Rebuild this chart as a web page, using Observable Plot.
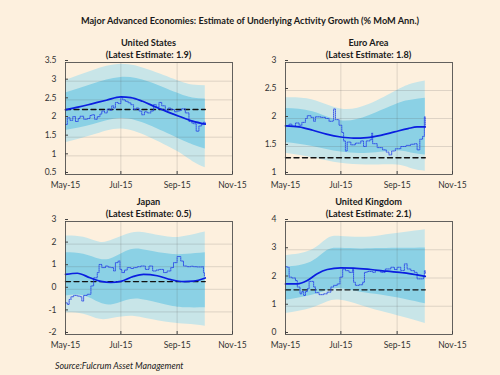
<!DOCTYPE html>
<html><head><meta charset="utf-8">
<script src="https://cdn.jsdelivr.net/npm/d3@7"></script>
<script src="https://cdn.jsdelivr.net/npm/@observablehq/plot@0.6"></script>
<style>
html,body{margin:0;padding:0;background:#fdf0de;}
#root{position:relative;width:500px;height:375px;overflow:hidden;font-family:Lato,"DejaVu Sans",sans-serif;color:#1a1a1a;background:#fdf0de;}
.t{position:absolute;transform:translate(-50%,-50%);white-space:nowrap;font-weight:bold;font-size:9.2px;}
.src{position:absolute;white-space:nowrap;font-style:italic;font-size:8.8px;color:#222;}
.p{position:absolute;}
</style></head><body><div id="root"></div>
<script>
// ---------- data ----------
const mainTitle = "Major Advanced Economies: Estimate of Underlying Activity Growth (% MoM Ann.)";
const source = "Source:Fulcrum Asset Management";
const xTickLabels = ["May-15","Jul-15","Sep-15","Nov-15"];
const xTickDays = [0, 61, 123, 184]; // days after 1 May 2015

// United States
const usTitle = "United States";
const usLatest = "(Latest Estimate: 1.9)";
const usYTicks = [0.5, 1, 1.5, 2, 2.5, 3, 3.5];
const usBandDays = [0, 30, 61, 92, 123, 140, 154];
const usOuterHi = [3.02, 3.28, 3.45, 3.3, 3.02, 2.9, 2.88];
const usInnerHi = [2.68, 2.92, 3.1, 2.98, 2.68, 2.55, 2.52];
const usInnerLo = [1.68, 1.83, 2.0, 1.82, 1.48, 1.3, 1.18];
const usOuterLo = [1.35, 1.55, 1.72, 1.5, 1.12, 0.85, 0.68];
const usTrendDays = [0, 15, 30, 45, 61, 72, 85, 100, 113, 125, 140, 154];
const usTrend = [2.23, 2.31, 2.4, 2.49, 2.58, 2.56, 2.46, 2.3, 2.17, 2.06, 1.93, 1.85];
const usDailyDays = [0, 2, 5, 8, 11, 14, 16, 20, 24, 27, 29, 32, 35, 38, 40, 43, 46, 49, 51, 53, 55, 58, 61, 63, 66, 69, 72, 75, 78, 81, 84, 87, 90, 94, 97, 100, 103, 106, 110, 113, 116, 120, 123, 126, 128, 132, 136, 139, 141, 144, 147, 150, 152, 154];
const usDaily    = [1.84, 2.02, 1.95, 2.05, 1.92, 2.0, 2.06, 1.98, 2.0, 2.08, 2.1, 1.98, 2.05, 2.12, 2.2, 2.15, 2.25, 2.22, 2.34, 2.28, 2.43, 2.4, 2.56, 2.5, 2.46, 2.42, 2.37, 2.24, 2.28, 2.2, 2.1, 2.18, 2.15, 2.2, 2.37, 2.3, 2.43, 2.34, 2.2, 2.28, 2.24, 2.18, 2.2, 2.22, 2.26, 2.15, 1.92, 1.88, 1.86, 1.66, 1.8, 1.85, 1.9, 1.84];
const usBaseline = 2.24;

// Euro Area
const eaTitle = "Euro Area";
const eaLatest = "(Latest Estimate: 1.8)";
const eaYTicks = [1, 1.5, 2, 2.5, 3];
const eaBandDays = [0, 30, 61, 92, 123, 140, 154];
const eaOuterHi = [2.37, 2.33, 2.17, 2.25, 2.5, 2.62, 2.67];
const eaInnerHi = [2.18, 2.12, 1.96, 2.05, 2.26, 2.33, 2.36];
const eaInnerLo = [1.57, 1.5, 1.4, 1.38, 1.42, 1.38, 1.35];
const eaOuterLo = [1.38, 1.3, 1.2, 1.17, 1.17, 1.1, 1.06];
const eaTrendDays = [0, 15, 30, 45, 61, 75, 90, 105, 120, 135, 145, 154];
const eaTrend = [1.87, 1.85, 1.79, 1.72, 1.67, 1.65, 1.66, 1.7, 1.76, 1.82, 1.85, 1.85];
const eaDailyDays = [0, 4, 7, 11, 15, 18, 22, 24, 28, 31, 33, 39, 44, 48, 52, 53, 55, 59, 62, 64, 66, 68, 72, 77, 83, 86, 89, 93, 95, 96, 101, 107, 111, 114, 117, 121, 127, 133, 138, 142, 145, 148, 151, 153, 154];
const eaDaily    = [1.87, 1.9, 1.86, 1.92, 1.88, 1.93, 2.0, 2.05, 2.02, 1.95, 2.03, 2.02, 2.0, 1.95, 1.96, 2.17, 1.98, 1.88, 1.75, 1.6, 1.42, 1.58, 1.53, 1.56, 1.6, 1.5, 1.6, 1.62, 1.74, 1.55, 1.48, 1.44, 1.4, 1.35, 1.42, 1.46, 1.5, 1.52, 1.54, 1.55, 1.44, 1.63, 1.68, 2.03, 1.88];
const eaBaseline = 1.3;

// Japan
const jpTitle = "Japan";
const jpLatest = "(Latest Estimate: 0.5)";
const jpYTicks = [-2, -1, 0, 1, 2, 3];
const jpBandDays = [0, 20, 38, 53, 72, 90, 116, 134, 154];
const jpOuterHi = [2.36, 2.3, 2.08, 2.2, 2.48, 2.48, 2.3, 2.36, 2.54];
const jpInnerHi = [1.62, 1.55, 1.33, 1.4, 1.75, 1.72, 1.55, 1.55, 1.62];
const jpInnerLo = [-0.3, -0.28, -0.6, -0.67, -0.45, -0.5, -0.74, -0.82, -0.82];
const jpOuterLo = [-1.04, -1.1, -1.33, -1.28, -1.19, -1.3, -1.48, -1.55, -1.63];
const jpTrendDays = [0, 13, 27, 39, 50, 61, 75, 86, 101, 116, 130, 141, 154];
const jpTrend = [0.66, 0.71, 0.51, 0.35, 0.3, 0.35, 0.57, 0.66, 0.6, 0.43, 0.34, 0.36, 0.5];
const jpDailyDays = [0, 2, 4, 6, 9, 13, 16, 18, 20, 24, 28, 31, 35, 37, 40, 44, 47, 50, 53, 55, 58, 60, 62, 65, 68, 72, 75, 79, 83, 88, 92, 96, 100, 103, 108, 112, 116, 119, 123, 127, 130, 134, 138, 141, 145, 151, 152, 153];
const jpDaily    = [-0.6, -0.67, -0.45, -0.33, -0.27, -0.3, -0.33, -0.52, -0.27, -0.22, 0.15, 0.51, 0.74, 1.1, 0.96, 1.03, 0.98, 0.96, 0.81, 1.18, 1.25, 0.88, 0.74, 0.85, 0.96, 0.92, 0.96, 1.0, 1.03, 0.88, 1.03, 0.81, 0.85, 0.88, 0.74, 0.81, 0.96, 1.18, 1.45, 1.25, 1.03, 1.0, 1.02, 1.0, 0.99, 1.0, 0.74, 0.59];
const jpBaseline = 0.34;

// United Kingdom
const ukTitle = "United Kingdom";
const ukLatest = "(Latest Estimate: 2.1)";
const ukYTicks = [0, 1, 2, 3, 4];
const ukBandDays = [0, 28, 46, 61, 83, 105, 131, 154];
const ukOuterHi = [2.79, 2.97, 3.38, 3.47, 3.44, 3.5, 3.61, 3.71];
const ukInnerHi = [2.38, 2.56, 2.97, 3.05, 3.03, 3.04, 3.05, 3.06];
const ukInnerLo = [1.21, 1.38, 1.56, 1.62, 1.5, 1.4, 1.25, 1.09];
const ukOuterLo = [0.74, 0.92, 1.15, 1.21, 1.03, 0.82, 0.6, 0.39];
const ukTrendDays = [0, 13, 24, 35, 46, 61, 75, 94, 112, 131, 145, 154];
const ukTrend = [1.79, 1.79, 1.91, 2.15, 2.3, 2.36, 2.35, 2.3, 2.24, 2.18, 2.11, 2.06];
const ukDailyDays = [0, 2, 4, 7, 11, 13, 16, 18, 20, 22, 24, 26, 29, 31, 33, 37, 42, 46, 50, 53, 57, 60, 63, 66, 70, 74, 75, 77, 81, 85, 87, 90, 96, 99, 105, 110, 116, 120, 123, 127, 131, 134, 138, 142, 145, 149, 152, 153, 154];
const ukDaily    = [2.4, 2.38, 2.03, 2.0, 1.91, 1.68, 1.44, 1.52, 1.38, 1.52, 1.62, 1.88, 1.88, 1.68, 1.48, 1.41, 1.44, 1.5, 1.68, 1.74, 1.79, 2.03, 2.32, 2.26, 2.2, 2.32, 1.85, 1.74, 1.76, 1.85, 2.2, 2.23, 2.2, 2.26, 2.2, 2.32, 2.38, 2.3, 2.38, 2.26, 2.5, 2.32, 2.26, 2.2, 1.97, 1.97, 2.03, 2.26, 2.15];
const ukBaseline = 1.58;

// ---------- helpers ----------
const t0 = Date.UTC(2015, 4, 1);
const dayToDate = d => new Date(t0 + d * 864e5);
const xTickDates = xTickDays.map(dayToDate);
const outerColor = "#c8e5e8";
const innerColor = "#8bd1e5";

const root = document.getElementById("root");
function addText(cls, txt, x, y, extra) {
  const el = document.createElement("div");
  el.className = cls; el.textContent = txt;
  el.style.left = x + "px"; el.style.top = y + "px";
  if (extra) Object.assign(el.style, extra);
  root.appendChild(el);
}

function panel(cfg) {
  const band = cfg.bandDays.map((d, i) => ({date: dayToDate(d), oh: cfg.oh[i], ih: cfg.ih[i], il: cfg.il[i], ol: cfg.ol[i]}));
  const trend = cfg.trendDays.map((d, i) => ({date: dayToDate(d), v: cfg.trend[i]}));
  const daily = cfg.dailyDays.map((d, i) => ({date: dayToDate(d), v: cfg.daily[i]}));
  const endDay = cfg.bandDays[cfg.bandDays.length - 1];
  const base = [{date: dayToDate(0), v: cfg.baseline}, {date: dayToDate(endDay), v: cfg.baseline}];
  const chart = Plot.plot({
    width: 250, height: cfg.height,
    marginLeft: cfg.ml, marginRight: cfg.mr, marginTop: cfg.mt, marginBottom: cfg.mb,
    style: {background: "transparent", fontFamily: "Lato, 'DejaVu Sans', sans-serif", fontSize: "8.5px", color: "#333", overflow: "visible"},
    x: {type: "utc", domain: [xTickDates[0], xTickDates[3]], label: null},
    y: {domain: [cfg.yTicks[0], cfg.yTicks[cfg.yTicks.length - 1]], label: null},
    marks: [
      Plot.areaY(band, {x: "date", y1: "ol", y2: "oh", fill: outerColor, curve: "natural"}),
      Plot.areaY(band, {x: "date", y1: "il", y2: "ih", fill: innerColor, curve: "natural"}),
      Plot.gridX(xTickDates, {stroke: "#555", strokeOpacity: 0.18}),
      Plot.gridY(cfg.yTicks, {stroke: "#555", strokeOpacity: 0.18}),
      Plot.line(base, {x: "date", y: "v", stroke: "#111", strokeWidth: 1.4, strokeDasharray: "5,3.5"}),
      Plot.line(daily, {x: "date", y: "v", stroke: "#2a46e6", strokeWidth: 0.9, strokeDasharray: "1,1", curve: "step-after"}),
      Plot.line(trend, {x: "date", y: "v", stroke: "#0a1ee0", strokeWidth: 1.7, curve: "monotone-x"}),
      Plot.frame({stroke: "#444", strokeWidth: 0.8}),
      Plot.axisX(xTickDates, {tickSize: -3, tickPadding: 10, tickFormat: d => xTickLabels[xTickDates.findIndex(t => +t === +d)], stroke: "#444"}),
      Plot.axisY(cfg.yTicks, {tickSize: -3, tickPadding: 12, dy: -2, tickFormat: d => String(d), stroke: "#444"})
    ]
  });
  const wrap = document.createElement("div");
  wrap.className = "p";
  wrap.style.left = cfg.left + "px"; wrap.style.top = cfg.top + "px";
  wrap.appendChild(chart);
  root.appendChild(wrap);
  const cx = cfg.left + cfg.ml + (250 - cfg.ml - cfg.mr) / 2;
  const plotTop = cfg.top + cfg.mt;
  addText("t", cfg.title, cx, plotTop - 20);
  addText("t", cfg.latest, cx, plotTop - 8);
}

addText("t", mainTitle, 250, 20);

panel({left: 0, top: 50, height: 140, ml: 65, mr: 18, mt: 12, mb: 16, title: usTitle, latest: usLatest, yTicks: usYTicks,
  bandDays: usBandDays, oh: usOuterHi, ih: usInnerHi, il: usInnerLo, ol: usOuterLo,
  trendDays: usTrendDays, trend: usTrend, dailyDays: usDailyDays, daily: usDaily, baseline: usBaseline});
panel({left: 250, top: 50, height: 140, ml: 35, mr: 48, mt: 12, mb: 16, title: eaTitle, latest: eaLatest, yTicks: eaYTicks,
  bandDays: eaBandDays, oh: eaOuterHi, ih: eaInnerHi, il: eaInnerLo, ol: eaOuterLo,
  trendDays: eaTrendDays, trend: eaTrend, dailyDays: eaDailyDays, daily: eaDaily, baseline: eaBaseline});
panel({left: 0, top: 209, height: 141, ml: 65, mr: 18, mt: 12, mb: 16, title: jpTitle, latest: jpLatest, yTicks: jpYTicks,
  bandDays: jpBandDays, oh: jpOuterHi, ih: jpInnerHi, il: jpInnerLo, ol: jpOuterLo,
  trendDays: jpTrendDays, trend: jpTrend, dailyDays: jpDailyDays, daily: jpDaily, baseline: jpBaseline});
panel({left: 250, top: 209, height: 141, ml: 35, mr: 48, mt: 12, mb: 16, title: ukTitle, latest: ukLatest, yTicks: ukYTicks,
  bandDays: ukBandDays, oh: ukOuterHi, ih: ukInnerHi, il: ukInnerLo, ol: ukOuterLo,
  trendDays: ukTrendDays, trend: ukTrend, dailyDays: ukDailyDays, daily: ukDaily, baseline: ukBaseline});

addText("src", source, 55, 360);
</script></body></html>
